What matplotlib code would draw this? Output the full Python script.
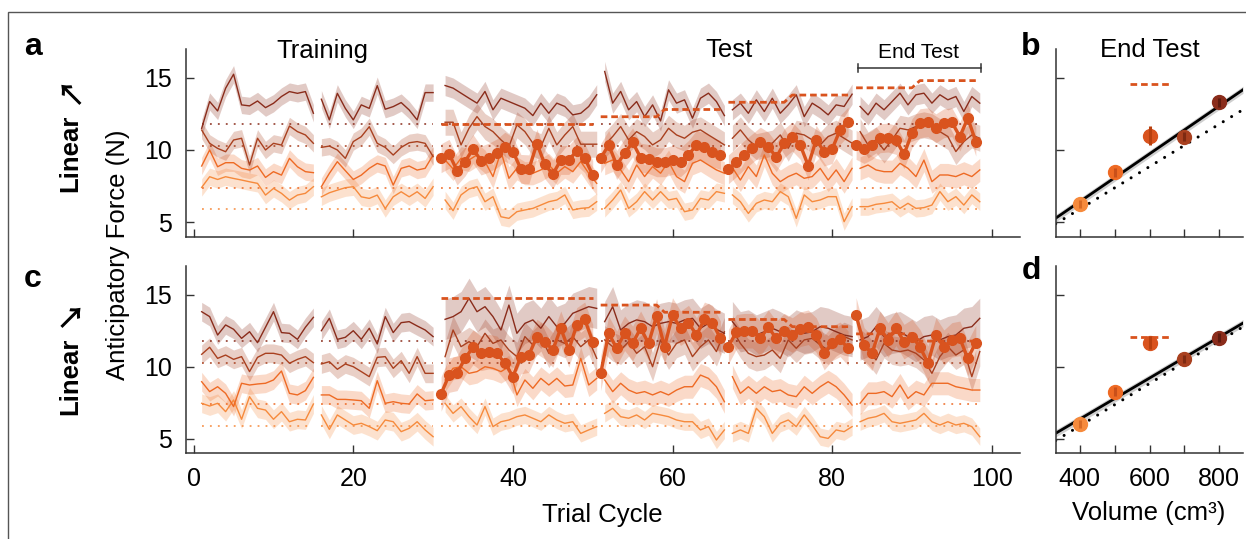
import numpy as np
import matplotlib.pyplot as plt
from matplotlib.patches import Rectangle

plt.rcParams['font.family'] = ['Liberation Sans', 'DejaVu Sans']

# ── Data ──────────────────────────────────────────────────
volumes = [400, 500, 600, 700, 800]
true_weight = [5.9, 7.4, 8.85, 10.3, 11.8]
thin_vols = [400, 500, 700, 800]
train_blocks = [(1, 15), (16, 30)]
test_blocks = [(31, 50), (51, 66), (67, 82), (83, 98)]

# panel a (Linear up), cycles 1-30 training, 31-98 test
a_400_train = [7.41, 8.15, 7.96, 8.15, 8.03, 7.92, 7.80, 7.69, 6.88, 7.34, 7.00, 6.53, 6.88, 7.00, 7.46,
               6.76, 7.04, 7.22, 7.39, 7.46, 6.76, 6.65, 6.88, 5.95, 6.76, 7.11, 6.76, 7.11, 6.65, 7.46]
a_500_train = [8.89, 10.00, 8.84, 9.12, 9.12, 8.73, 8.61, 8.89, 8.10, 8.50, 8.26, 9.42, 8.84, 8.50, 8.43,
               7.46, 8.38, 9.19, 8.57, 7.96, 8.26, 8.73, 9.07, 8.89, 7.57, 8.73, 8.89, 8.61, 8.73, 9.65]
a_700_train = [11.38, 10.46, 10.11, 9.88, 10.69, 10.81, 8.96, 10.81, 10.00, 10.46, 10.34, 11.66, 11.27, 11.04, 10.46,
               10.18, 10.27, 10.00, 9.42, 10.58, 10.92, 11.61, 10.46, 10.18, 9.65, 10.18, 10.50, 10.58, 10.46, 9.54]
a_800_train = [11.50, 13.35, 12.70, 14.27, 15.24, 13.12, 13.05, 13.39, 12.93, 13.23, 13.70, 14.04, 13.92, 14.04, 12.54,
               13.51, 12.08, 13.92, 12.88, 12.08, 13.12, 12.88, 14.45, 12.82, 13.00, 13.28, 12.77, 12.08, 13.97, 13.97]

a_400_test = [6.54, 5.80, 6.89, 7.30, 7.46, 6.42, 6.77, 5.38, 5.27, 5.73, 5.85, 5.96, 6.19, 6.42, 6.54, 6.89, 5.85, 5.96, 6.01, 6.42,
              5.96, 6.54, 7.23, 5.96, 6.42, 7.12, 6.54, 7.12, 6.54, 6.65, 5.73, 5.85, 6.65, 6.54, 7.12, 7.00,
              6.89, 6.42, 5.61, 6.31, 6.54, 6.42, 7.12, 6.77, 5.27, 6.89, 6.42, 6.54, 6.77, 6.77, 5.04, 6.08,
              6.08, 6.08, 6.24, 6.31, 6.42, 5.96, 6.31, 5.96, 6.01, 6.19, 7.12, 6.42, 6.77, 6.19, 6.89, 6.42]
a_500_test = [9.31, 8.69, 9.43, 9.31, 9.66, 9.20, 8.16, 9.89, 8.04, 8.73, 8.39, 8.39, 8.62, 8.96, 8.39, 8.85, 8.50, 9.20, 8.39, 7.69,
              9.08, 9.31, 8.62, 7.81, 8.96, 8.16, 8.85, 8.39, 9.20, 8.16, 7.81, 9.08, 9.31, 8.96, 8.62, 8.39,
              8.78, 7.92, 8.85, 8.16, 9.66, 8.39, 7.81, 8.16, 8.39, 8.04, 8.16, 8.73, 7.92, 8.62, 7.81, 8.73,
              8.73, 8.96, 8.62, 8.50, 8.50, 9.08, 8.73, 8.16, 9.30, 7.81, 8.27, 8.27, 8.16, 8.39, 8.16, 8.62]
a_700_test = [11.92, 11.92, 10.35, 11.50, 12.31, 11.62, 11.27, 10.70, 10.23, 11.74, 11.27, 10.47, 10.23, 11.50, 10.35, 11.04, 11.62, 10.40, 10.40, 10.40,
              10.35, 10.93, 11.62, 10.70, 11.27, 10.93, 10.35, 10.70, 11.50, 11.04, 10.81, 11.23, 11.39, 11.04, 10.70, 10.35,
              10.81, 11.39, 10.70, 10.23, 10.35, 10.47, 11.04, 10.12, 11.16, 11.04, 10.70, 10.35, 10.93, 11.16, 10.81, 10.47,
              11.27, 10.35, 10.70, 10.00, 10.70, 11.50, 11.39, 11.62, 11.74, 11.62, 11.27, 10.93, 9.89, 10.58, 11.04, 10.81]
a_800_test = [14.46, 14.28, 13.93, 13.58, 13.24, 14.05, 12.78, 13.58, 13.35, 13.12, 12.89, 12.38, 13.24, 12.54, 13.24, 13.01, 12.43, 12.54, 13.01, 13.82,
              15.43, 13.24, 14.05, 12.78, 13.35, 12.31, 13.12, 12.01, 14.16, 13.24, 13.47, 12.20, 13.58, 13.93, 13.35, 12.38,
              12.78, 13.24, 12.54, 13.47, 12.66, 13.58, 12.54, 13.12, 13.82, 12.31, 13.24, 12.89, 12.43, 13.12, 13.01, 13.86,
              13.01, 12.43, 13.24, 12.78, 13.35, 13.93, 13.12, 13.82, 13.93, 13.24, 13.82, 13.47, 13.70, 12.66, 13.70, 13.24]
a_600_test = [9.43, 9.73, 8.57, 9.20, 10.07, 9.27, 9.47, 9.77, 10.23, 9.89, 8.69, 8.66, 10.44, 9.01, 8.32, 9.31, 9.31, 9.93, 9.43, 8.27,
              9.43, 10.35, 8.96, 9.77, 10.53, 9.47, 9.38, 9.15, 9.15, 9.31, 9.15, 9.66, 10.35, 10.19, 9.84, 9.66,
              8.66, 9.15, 9.66, 10.12, 10.58, 10.23, 9.50, 10.47, 10.93, 10.35, 8.92, 10.70, 9.89, 10.07, 11.39, 11.97,
              10.35, 10.07, 10.35, 10.81, 10.86, 10.70, 9.70, 11.16, 11.85, 11.92, 11.50, 11.85, 11.92, 10.93, 12.20, 10.58]
a_target = [11.8] * 20 + [12.3] * 8 + [12.8] * 8 + [13.3] * 8 + [13.8] * 8 + [14.3] * 8 + [14.8] * 8
a_sem_train = [0.6, 0.6, 0.6, 0.6]        # 400, 500, 700, 800
a_sem_test = [0.6, 0.8, 0.9, 0.7]
a_sem_600 = 1.0

# panel c (Linear down)
c_400_train = [7.48, 7.29, 7.48, 6.90, 7.71, 6.37, 7.94, 7.13, 7.01, 6.37, 6.90, 6.20, 6.37, 6.32, 7.43,
               6.67, 5.67, 6.67, 6.32, 5.97, 6.09, 5.86, 5.58, 6.32, 6.20, 5.51, 5.74, 6.20, 5.63, 5.16]
c_500_train = [8.98, 8.29, 8.63, 8.17, 7.25, 8.87, 8.75, 8.82, 8.87, 9.10, 9.72, 8.17, 8.06, 8.36, 9.28,
               8.06, 8.06, 7.75, 7.75, 7.71, 7.66, 7.13, 9.05, 7.48, 7.59, 7.48, 7.43, 8.13, 7.66, 7.71]
c_700_train = [10.88, 11.37, 10.60, 10.83, 10.53, 10.72, 9.68, 10.67, 10.95, 10.95, 10.83, 10.26, 10.53, 10.72, 10.30,
               10.21, 10.37, 9.84, 10.21, 10.02, 9.68, 9.33, 10.67, 10.72, 9.91, 10.44, 9.56, 10.72, 9.56, 9.56]
c_800_train = [13.84, 13.50, 12.22, 12.92, 12.62, 11.99, 12.45, 11.69, 12.76, 13.84, 12.39, 12.34, 11.92, 12.76, 13.45,
               12.52, 13.38, 11.92, 12.06, 12.52, 11.92, 12.69, 11.60, 13.50, 12.39, 13.08, 13.15, 12.85, 12.57, 12.11]

c_400_test = [7.48, 6.78, 7.25, 6.55, 5.97, 7.25, 5.86, 6.20, 6.32, 6.55, 6.67, 6.44, 6.20, 6.67, 6.32, 6.09, 6.20, 5.39, 5.63, 5.86,
              6.78, 7.13, 6.55, 6.44, 6.67, 6.32, 6.78, 6.67, 6.55, 6.32, 6.20, 6.20, 5.63, 5.86, 4.93, 5.63,
              5.39, 5.63, 5.39, 7.13, 6.55, 5.39, 6.09, 6.32, 5.86, 6.67, 5.97, 5.16, 5.04, 5.63, 5.51, 5.86,
              6.20, 6.44, 6.55, 6.78, 6.20, 6.09, 6.20, 6.32, 6.78, 6.20, 5.97, 6.20, 5.97, 6.09, 5.86, 5.16]
c_500_test = [9.10, 9.91, 10.02, 9.56, 9.68, 10.02, 9.91, 9.68, 10.02, 8.06, 9.10, 8.52, 9.21, 8.75, 9.21, 8.68, 8.75, 10.60, 8.75, 9.21,
              9.10, 8.29, 8.87, 8.40, 8.17, 8.29, 8.06, 8.29, 8.06, 8.40, 8.63, 8.63, 9.44, 9.21, 8.63, 7.59,
              9.33, 8.17, 8.63, 8.17, 8.63, 8.29, 8.40, 8.06, 7.94, 8.63, 8.17, 8.63, 8.98, 8.63, 8.06, 7.36,
              7.48, 8.17, 8.17, 8.29, 7.94, 8.75, 7.82, 8.29, 8.06, 8.87, 8.87, 8.87, 8.63, 8.52, 8.40, 8.40]
c_700_test = [10.72, 12.57, 11.41, 11.76, 11.41, 12.34, 11.64, 11.88, 11.18, 10.72, 12.11, 11.53, 12.11, 10.95, 11.88, 11.64, 12.11, 11.41, 11.88, 10.60,
              11.88, 11.41, 11.18, 11.76, 10.95, 11.41, 10.02, 11.88, 10.83, 11.64, 11.88, 10.72, 11.41, 11.88, 11.07, 12.45,
              12.57, 11.64, 10.95, 10.72, 10.83, 11.18, 10.60, 11.88, 11.30, 11.88, 11.99, 11.53, 11.18, 11.76, 12.11, 11.88,
              11.64, 11.18, 10.49, 11.64, 11.18, 11.07, 11.18, 10.95, 10.49, 9.56, 10.72, 11.41, 10.83, 11.18, 9.33, 11.07]
c_800_test = [13.31, 13.50, 13.84, 14.77, 13.84, 14.19, 13.50, 12.57, 14.30, 12.34, 13.03, 13.27, 12.69, 13.50, 12.80, 13.03, 13.73, 13.96, 14.19, 14.07,
              13.15, 14.19, 12.57, 13.03, 13.27, 13.15, 12.80, 13.03, 13.15, 13.03, 13.27, 13.38, 12.69, 13.03, 12.62, 12.34,
              13.15, 12.45, 12.57, 12.22, 12.45, 12.69, 12.45, 12.11, 12.57, 12.34, 12.45, 12.80, 12.69, 12.45, 12.22, 12.11,
              11.88, 12.11, 12.80, 12.11, 12.34, 12.45, 12.11, 11.76, 12.11, 12.22, 11.88, 12.11, 12.22, 12.69, 12.80, 13.38]
c_600_test = [8.13, 9.44, 9.56, 10.60, 11.37, 10.95, 11.07, 10.95, 10.26, 9.33, 10.72, 10.83, 12.11, 11.76, 11.18, 12.69, 11.18, 12.92, 13.31, 11.76,
              9.56, 12.34, 11.30, 12.34, 11.64, 12.69, 11.64, 13.54, 11.41, 13.61, 12.69, 13.08, 12.22, 13.31, 13.08, 11.99,
              11.41, 12.45, 12.52, 12.52, 11.99, 12.76, 11.99, 12.52, 12.22, 12.62, 12.76, 12.22, 11.00, 11.64, 11.92, 11.30,
              13.61, 11.53, 10.95, 12.69, 11.88, 12.69, 11.76, 12.11, 11.41, 10.26, 12.22, 11.37, 11.88, 11.99, 10.60, 11.69]
c_target = [14.8] * 20 + [14.3] * 8 + [13.8] * 8 + [13.3] * 8 + [12.8] * 8 + [12.3] * 8 + [11.8] * 8
c_sem_train = [0.65, 0.65, 0.65, 0.65]
c_sem_test = [0.6, 0.8, 1.0, 1.4]
c_sem_600 = 1.2

# End-test means (panels b, d)
b_means = [6.26, 8.45, 10.99, 10.92, 13.30]
b_errs = [0.3, 0.3, 0.65, 0.3, 0.3]
d_means = [6.04, 8.29, 11.69, 10.56, 12.03]
d_errs = [0.3, 0.3, 0.45, 0.3, 0.3]
fit_ci = 0.25

colors = {400: '#F68A3C', 500: '#EE6A24', 600: '#D9531E', 700: '#A9401F', 800: '#8A2C1B'}
dark = {400: '#D86A25', 500: '#C9501A', 600: '#B8400F', 700: '#7E2A12', 800: '#5E1A0E'}

# ── Figure ────────────────────────────────────────────────
W, H = 1246, 539
fig = plt.figure(figsize=(W / 100, H / 100), dpi=100)
fig.patches.append(Rectangle((8 / W, -0.1), 1.2, 1.1 - 12 / H, transform=fig.transFigure,
                             fill=False, edgecolor='#555555', lw=1.0))

ax_a = fig.add_axes([185.7 / W, 1 - 236.7 / H, 834 / W, 187.9 / H])
ax_c = fig.add_axes([185.7 / W, 1 - 453.4 / H, 834 / W, 187.2 / H])
ax_b = fig.add_axes([1055.7 / W, 1 - 236.7 / H, 187.3 / W, 187.9 / H])
ax_d = fig.add_axes([1055.7 / W, 1 - 453.4 / H, 187.3 / W, 187.2 / H])


def style(ax):
    for s in ['top', 'right']:
        ax.spines[s].set_visible(False)
    for s in ['left', 'bottom']:
        ax.spines[s].set_color('#333333')
        ax.spines[s].set_linewidth(1.1)
    ax.tick_params(direction='in', length=6, width=1.0, color='#333333',
                   labelsize=18, pad=10)
    ax.set_ylim(4, 17)
    ax.set_yticks([5, 10, 15])


def draw_timecourse(ax, trains, tests, sem_train, sem_test, v600, sem600, target):
    for vol, tr, te, s_tr, s_te in zip(thin_vols, trains, tests, sem_train, sem_test):
        col = colors[vol]
        w = true_weight[volumes.index(vol)]
        tr = np.array(tr)
        te = np.array(te)
        for c0, c1 in train_blocks:
            x = np.arange(c0, c1 + 1)
            y = tr[c0 - 1:c1]
            ax.fill_between(x, y - s_tr, y + s_tr, color=col, alpha=0.25, lw=0, zorder=1)
            ax.plot(x, y, color=col, lw=1.0, zorder=3)
            ax.plot([c0, c1], [w, w], color=col, lw=1.1, ls=(0, (1.2, 4)), zorder=2)
        for c0, c1 in test_blocks:
            x = np.arange(c0, c1 + 1) + 0.5
            y = te[c0 - 31:c1 - 30]
            ax.fill_between(x, y - s_te, y + s_te, color=col, alpha=0.25, lw=0, zorder=1)
            ax.plot(x, y, color=col, lw=1.0, zorder=3)
            ax.plot([c0, c1 + 0.5], [w, w], color=col, lw=1.1, ls=(0, (1.2, 4)), zorder=2)
    v600 = np.array(v600)
    target = np.array(target)
    for c0, c1 in test_blocks:
        x = np.arange(c0, c1 + 1)
        y = v600[c0 - 31:c1 - 30]
        ax.fill_between(x, y - sem600, y + sem600, color=colors[600], alpha=0.25, lw=0, zorder=1)
        ax.plot(x, y, color=colors[600], lw=2.4, marker='o', ms=7, zorder=5)
        ax.plot(x, target[c0 - 31:c1 - 30], color=colors[600], lw=2.0,
                ls=(0, (2.4, 1.4)), zorder=6)
    style(ax)
    ax.set_xlim(-1, 103.5)
    ax.set_xticks([0, 20, 40, 60, 80, 100])


def draw_end(ax, means, errs, target_mean):
    x = np.array(volumes)
    m = np.array(means)
    style(ax)
    ax.set_xlim(331, 868)
    xs = np.array(ax.get_xlim())
    keep = x != 600
    k, b0 = np.polyfit(x[keep], m[keep], 1)
    ax.fill_between(xs, k * xs + b0 - fit_ci, k * xs + b0 + fit_ci, color='#BBBBBB', alpha=0.7, lw=0, zorder=1)
    ax.plot(xs, k * xs + b0, color='black', lw=2.0, zorder=2)
    kt, bt = np.polyfit(x, true_weight, 1)
    ax.plot(xs, kt * xs + bt, color='black', lw=2.2, ls=(0, (0.01, 3.2)),
            dash_capstyle='round', zorder=2)
    ax.plot([545, 655], [target_mean, target_mean], color=colors[600], lw=2.0,
            ls=(0, (2.4, 1.4)), zorder=3)
    for xi, mi, ei, vol in zip(x, m, errs, volumes):
        ax.plot(xi, mi, 'o', ms=10, color=colors[vol], zorder=4)
        ax.errorbar(xi, mi, yerr=ei, fmt='none', ecolor=dark[vol], elinewidth=2.2, capsize=0, zorder=5)
    ax.set_xticks([400, 500, 600, 700, 800])
    ax.set_yticklabels([])


draw_timecourse(ax_a, [a_400_train, a_500_train, a_700_train, a_800_train],
                [a_400_test, a_500_test, a_700_test, a_800_test],
                a_sem_train, a_sem_test, a_600_test, a_sem_600, a_target)
draw_timecourse(ax_c, [c_400_train, c_500_train, c_700_train, c_800_train],
                [c_400_test, c_500_test, c_700_test, c_800_test],
                c_sem_train, c_sem_test, c_600_test, c_sem_600, c_target)
ax_a.set_xticklabels([])

draw_end(ax_b, b_means, b_errs, np.mean(a_target[-16:]))
draw_end(ax_d, d_means, d_errs, np.mean(c_target[-16:]))
ax_b.set_xticklabels([])
ax_d.set_xticklabels(['400', '', '600', '', '800'])

# End Test bracket
ax_a.plot([83.2, 98.6], [15.68, 15.68], color='#333333', lw=1.1, clip_on=False)
for xb in [83.2, 98.6]:
    ax_a.plot([xb, xb], [15.42, 15.94], color='#333333', lw=1.1, clip_on=False)

# ── Text ──────────────────────────────────────────────────
def ft(x, y, s, **kw):
    fig.text(x / W, 1 - y / H, s, **kw)


arrow_font = ['Noto Sans CJK JP', 'DejaVu Sans']
ft(33, 55, 'a', fontsize=23, fontweight='bold', ha='center', va='baseline')
ft(1031, 55, 'b', fontsize=23, fontweight='bold', ha='center', va='baseline')
ft(33, 287, 'c', fontsize=23, fontweight='bold', ha='center', va='baseline')
ft(1031, 279, 'd', fontsize=23, fontweight='bold', ha='center', va='baseline')
ft(70, 153.5, 'Linear', fontsize=18.5, fontweight='bold', rotation=90, ha='center', va='center')
ft(70, 89, '↗', fontsize=21, fontweight='bold', family=arrow_font, rotation=90, ha='center', va='center')
ft(70, 376, 'Linear', fontsize=18.5, fontweight='bold', rotation=90, ha='center', va='center')
ft(70, 312, '↘', fontsize=21, fontweight='bold', family=arrow_font, rotation=90, ha='center', va='center')
ft(118, 254.5, 'Anticipatory Force (N)', fontsize=18.5, rotation=90, ha='center', va='center')
ft(322, 58.3, 'Training', fontsize=18.5, ha='center', va='baseline')
ft(729, 57.3, 'Test', fontsize=18.5, ha='center', va='baseline')
ft(919, 58.3, 'End Test', fontsize=15, ha='center', va='baseline')
ft(1150, 57.3, 'End Test', fontsize=18.5, ha='center', va='baseline')
ft(602.7, 521.7, 'Trial Cycle', fontsize=18.5, ha='center', va='baseline')
ft(1149, 520, 'Volume (cm³)', fontsize=18.5, ha='center', va='baseline')

fig.savefig('out.png', dpi=100)
